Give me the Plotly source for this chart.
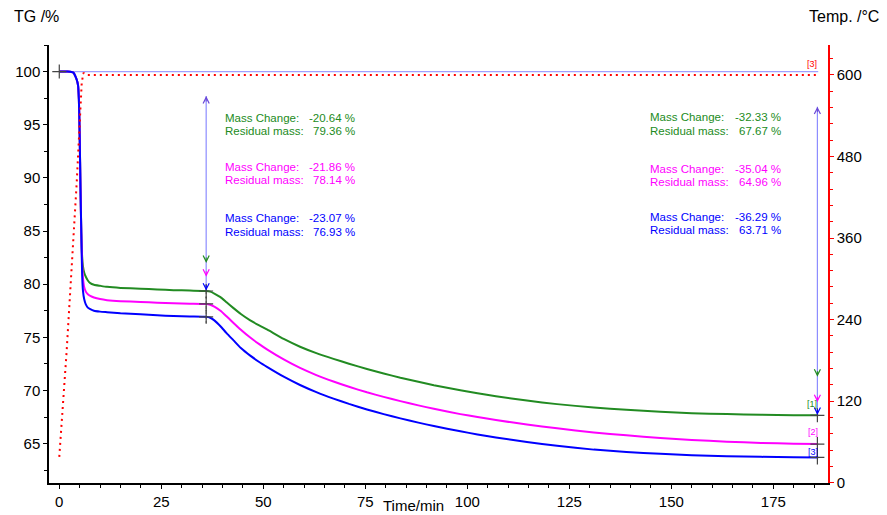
import plotly.graph_objects as go

# ---------------- data ----------------
t_common = [0, 1, 2, 3, 3.5, 3.9, 4.3, 4.6, 4.8, 5.0, 5.2, 5.4, 5.6, 5.8, 6.1, 6.5, 7.0, 7.6, 8.5, 10, 11.7,
            15, 19.9, 24, 28, 32, 36, 37, 38, 39.5, 41, 42.7, 44.5, 46.8, 49, 51, 55, 59, 63, 67.2, 71, 75.4,
            79.5, 83.6, 88, 91.8, 98.3, 102.5, 107, 114.6, 122, 131, 139, 147.3, 155, 163.6, 172, 180, 186]

tg_green = [100, 100, 100, 99.97, 99.9, 99.6, 99.2, 98.7, 97.4, 94.0, 89.0, 84.8, 82.6, 81.7, 81.1, 80.7,
            80.35, 80.1, 79.95, 79.85, 79.75, 79.65, 79.58, 79.5, 79.44, 79.4, 79.36, 79.3, 79.12, 78.78, 78.3,
            77.75, 77.2, 76.6, 76.12, 75.72, 74.85, 74.12, 73.52, 72.98, 72.52, 72.02, 71.6, 71.2, 70.82, 70.5,
            70.03, 69.75, 69.47, 69.05, 68.72, 68.4, 68.18, 68.0, 67.87, 67.78, 67.72, 67.68, 67.67]

tg_magenta = [100, 100, 100, 99.97, 99.9, 99.6, 99.2, 98.7, 97.4, 94.0, 89.0, 84.8, 82.0, 80.6, 79.75, 79.3,
              79.05, 78.9, 78.75, 78.6, 78.5, 78.4, 78.33, 78.26, 78.2, 78.17, 78.14, 78.06, 77.88, 77.5, 76.98,
              76.36, 75.72, 74.98, 74.36, 73.84, 72.92, 72.12, 71.45, 70.85, 70.35, 69.83, 69.4, 69.0, 68.6,
              68.28, 67.78, 67.5, 67.22, 66.8, 66.44, 66.06, 65.78, 65.54, 65.35, 65.19, 65.07, 64.99, 64.96]

tg_blue = [100, 100, 100, 99.97, 99.9, 99.6, 99.2, 98.7, 97.4, 94.0, 89.0, 84.8, 80.9, 79.4, 78.6, 78.1,
           77.8, 77.65, 77.5, 77.42, 77.37, 77.27, 77.17, 77.08, 77.0, 76.96, 76.93, 76.84, 76.6, 76.05, 75.4,
           74.72, 74.0, 73.28, 72.68, 72.2, 71.3, 70.52, 69.85, 69.24, 68.74, 68.22, 67.78, 67.38, 66.98, 66.66,
           66.16, 65.87, 65.58, 65.16, 64.8, 64.44, 64.22, 64.05, 63.92, 63.82, 63.76, 63.72, 63.71]

t_temp = [0, 1.8, 4.26, 4.9, 5.5, 5.9, 6.5, 186]
temp = [38, 193, 440, 514, 588, 603, 600, 600]

t_base = [0, 186]
tg_base = [100, 100]

step_times = [36.0, 185.8]
arrow_top = [97.7, 96.7]
arrow_heads = {  # per series, arrowhead tip value at each step
    "green": [82.0, 71.3],
    "magenta": [80.7, 68.9],
    "blue": [79.4, 67.7],
}
mark_green = [79.36, 67.67]
mark_magenta = [78.14, 64.96]
mark_blue = [76.93, 63.71]

mass_change = {"green": [-20.64, -32.33], "magenta": [-21.86, -35.04], "blue": [-23.07, -36.29]}
residual = {"green": [79.36, 67.67], "magenta": [78.14, 64.96], "blue": [76.93, 63.71]}

x_ticks = [0, 25, 50, 75, 100, 125, 150, 175]
y_ticks = [65, 70, 75, 80, 85, 90, 95, 100]
y2_ticks = [0, 120, 240, 360, 480, 600]

# ---------------- styling ----------------
GREEN = "#228b22"
MAGENTA = "#ff00ff"
BLUE = "#0000ff"
RED = "#ff0000"
FONT = "Liberation Sans, Arial, sans-serif"
colors = {"green": GREEN, "magenta": MAGENTA, "blue": BLUE}

L, R, T, B = 49, 59, 45, 32
W, H = 887, 515
PW, PH = W - L - R, H - T - B


def px(x):
    return (x - L) / PW


def py(y):
    return (H - B - y) / PH


fig = go.Figure()

fig.add_trace(go.Scatter(x=t_base, y=tg_base, mode="lines", line=dict(color="#a0a0ff", width=1.2),
                         hoverinfo="skip"))
fig.add_trace(go.Scatter(x=t_temp, y=temp, mode="lines", yaxis="y2",
                         line=dict(color=RED, width=2, dash="2px,4px"), hoverinfo="skip"))

# measurement arrow shafts
for i, st in enumerate(step_times):
    fig.add_trace(go.Scatter(x=[st, st], y=[arrow_top[i], arrow_heads["blue"][i]], mode="lines",
                             line=dict(color="#8c8cff", width=1.2), hoverinfo="skip"))

# dashed grey guide at first step
fig.add_trace(go.Scatter(x=[step_times[0], step_times[0]], y=[mark_green[0], mark_blue[0] - 0.6],
                         mode="lines", line=dict(color="#777777", width=1, dash="3px,2px"), hoverinfo="skip"))

for vals, col in [(tg_green, GREEN), (tg_magenta, MAGENTA), (tg_blue, BLUE)]:
    fig.add_trace(go.Scatter(x=t_common, y=vals, mode="lines",
                             line=dict(color=col, width=2, shape="spline", smoothing=0.5)))

# + markers
mx = [t_common[0]] + step_times * 3
my = [tg_green[0]] + [mark_green[0], mark_green[1], mark_magenta[0], mark_magenta[1], mark_blue[0], mark_blue[1]]
fig.add_trace(go.Scatter(x=mx, y=my, mode="markers",
                         marker=dict(symbol="cross-thin", size=10, line=dict(color="#444444", width=1.2)),
                         hoverinfo="skip"))

ann = []
# arrowheads
for i, st in enumerate(step_times):
    ann.append(dict(x=st, y=arrow_top[i], xref="x", yref="y", text="", showarrow=True, arrowhead=5,
                    arrowsize=1.2, arrowwidth=1, arrowcolor="#6a48d8", ax=0, ay=7))
    for key in ["green", "magenta", "blue"]:
        ann.append(dict(x=st, y=arrow_heads[key][i], xref="x", yref="y", text="", showarrow=True, arrowhead=5,
                        arrowsize=1.2, arrowwidth=1, arrowcolor=colors[key], ax=0, ay=-7))

# mass change text blocks
blocks = [  # (left px, right px, [(y_mc, y_rm) per color])
    (222.5, 357, [(117.7, 130.7), (167.3, 180.0), (217.7, 231.7)]),
    (648, 783, [(117.3, 130.7), (169.3, 181.7), (216.7, 230.0)]),
]
for bi, (xl, xr, ys) in enumerate(blocks):
    for ci, key in enumerate(["green", "magenta", "blue"]):
        ymc, yrm = ys[ci]
        for label, val, yy in [("Mass Change:", f"{mass_change[key][bi]:.2f} %", ymc),
                               ("Residual mass:", f"{residual[key][bi]:.2f} %", yrm)]:
            ann.append(dict(x=px(xl), y=py(yy), xref="paper", yref="paper", text=label, showarrow=False,
                            xanchor="left", yanchor="middle", font=dict(family=FONT, size=11.5, color=colors[key])))
            ann.append(dict(x=px(xr), y=py(yy), xref="paper", yref="paper", text=val, showarrow=False,
                            xanchor="right", yanchor="middle", font=dict(family=FONT, size=11.5, color=colors[key])))

# curve tags
for txt, col, (xx, yy) in [("[1]", GREEN, (812, 404)), ("[2]", MAGENTA, (812.5, 432)),
                           ("[3]", BLUE, (813, 452)), ("[3]", RED, (812, 64))]:
    ann.append(dict(x=px(xx), y=py(yy), xref="paper", yref="paper", text=txt, showarrow=False,
                    xanchor="center", yanchor="middle", font=dict(family=FONT, size=9, color=col)))

# axis titles
ann.append(dict(x=px(11.5), y=py(17), xref="paper", yref="paper", text="TG /%", showarrow=False,
                xanchor="left", yanchor="middle", font=dict(family=FONT, size=16, color="black")))
ann.append(dict(x=px(881), y=py(17), xref="paper", yref="paper", text="Temp. /°C", showarrow=False,
                xanchor="right", yanchor="middle", font=dict(family=FONT, size=16, color="black")))
ann.append(dict(x=px(413), y=py(505.5), xref="paper", yref="paper", text="Time/min", showarrow=False,
                xanchor="center", yanchor="middle", font=dict(family=FONT, size=15, color="black")))

fig.update_layout(
    template="none",
    width=W, height=H,
    margin=dict(l=L, r=R, t=T, b=B, pad=0, autoexpand=False),
    paper_bgcolor="white", plot_bgcolor="white",
    showlegend=False,
    font=dict(family=FONT, size=15, color="black"),
    annotations=ann,
    xaxis=dict(range=[-2.52, 188.4], tickvals=x_ticks, ticks="outside", ticklen=4, tickwidth=1,
               tickcolor="black", showline=True, linecolor="black", linewidth=1.5, showgrid=False,
               zeroline=False, automargin=False,
               minor=dict(dtick=5, tick0=0, ticks="outside", ticklen=3, tickcolor="black", showgrid=False),
               tickfont=dict(size=15)),
    yaxis=dict(range=[61.3, 102.5], tickvals=y_ticks, ticks="outside", ticklen=4, tickwidth=1,
               tickcolor="black", showline=True, linecolor="black", linewidth=1.5, showgrid=False,
               zeroline=False, automargin=False,
               minor=dict(dtick=2.5, tick0=0, ticks="outside", ticklen=3, tickcolor="black", showgrid=False),
               tickfont=dict(size=15)),
    yaxis2=dict(range=[-0.5, 644], tickvals=y2_ticks, overlaying="y", side="right", ticks="outside",
                ticklen=4, tickwidth=1, tickcolor=RED, showline=True, linecolor=RED, linewidth=1.5,
                showgrid=False, zeroline=False, automargin=False,
                minor=dict(dtick=24, tick0=0, ticks="outside", ticklen=3, tickcolor=RED, showgrid=False),
                tickfont=dict(size=15, color="black")),
)

fig.write_html("out.html")
